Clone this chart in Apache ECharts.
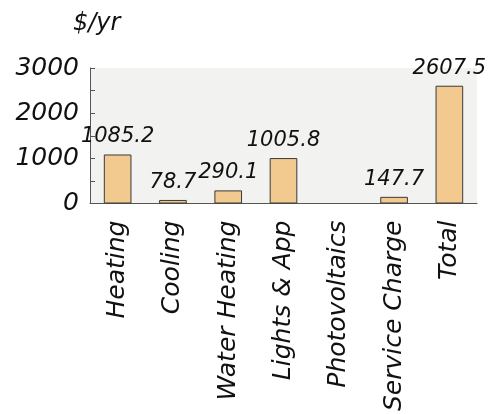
<!DOCTYPE html>
<html><head><meta charset="utf-8">
<script src="https://cdn.jsdelivr.net/npm/echarts@6/dist/echarts.min.js"></script>
<style>
html,body{margin:0;padding:0;background:#fff;overflow:hidden;}
#c{width:490px;height:414px;}
</style></head>
<body><div id="c"></div>
<script>
const categories = ['Heating','Cooling','Water Heating','Lights & App','Photovoltaics','Service Charge','Total'];
const values = [1085.2, 78.7, 290.1, 1005.8, 0, 147.7, 2607.5];
const labels = ['1085.2','78.7','290.1','1005.8','','147.7','2607.5'];
const yTicks = [0, 1000, 2000, 3000];

const chart = echarts.init(document.getElementById('c'), null, {renderer:'canvas'});
const font = 'DejaVu Sans, Verdana, sans-serif';
chart.setOption({
  animation:false,
  backgroundColor:'#ffffff',
  title:{text:'$/yr', left:68, top:7, textStyle:{fontFamily:font, fontStyle:'italic', fontWeight:'normal', fontSize:24, color:'#111'}},
  grid:{left:90, right:13, top:68, bottom:210, show:true, backgroundColor:'#f2f2f1', borderWidth:0},
  xAxis:{type:'category', data:categories,
    axisLine:{lineStyle:{color:'#555', width:1}},
    axisTick:{alignWithLabel:true, length:6, lineStyle:{color:'#555'}},
    axisLabel:{rotate:90, fontFamily:font, fontStyle:'italic', fontSize:25, color:'#111', margin:17, interval:0}},
  yAxis:{type:'value', min:0, max:3000, interval:1000,
    axisLine:{show:true, lineStyle:{color:'#555', width:1}},
    axisTick:{show:true, inside:true, length:5, lineStyle:{color:'#555'}},
    minorTick:{show:true, splitNumber:2, length:5, lineStyle:{color:'#555'}},
    splitLine:{show:false},
    axisLabel:{fontFamily:font, fontStyle:'italic', fontSize:25, color:'#111', margin:11,
      formatter:(v)=> yTicks.includes(v) ? String(v) : ''}},
  series:[{type:'bar', data:values.map(v => v === 0 ? null : v), barWidth:'50%',
    itemStyle:{color:'#f2c98f', borderColor:'#3a3a3a', borderWidth:1},
    label:{show:true, position:'top', distance:7, fontFamily:font, fontStyle:'italic', fontSize:21, color:'#111',
      formatter:(p)=>labels[p.dataIndex]}}]
});
</script></body></html>
